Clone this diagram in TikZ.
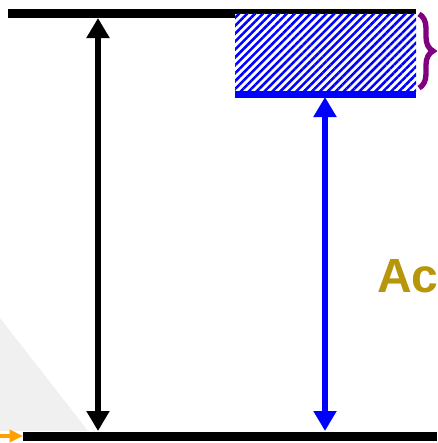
\documentclass[tikz,border=0pt]{standalone}
\usepackage{fontspec}
\setsansfont{Liberation Sans}
\usetikzlibrary{arrows.meta,patterns.meta,decorations.pathreplacing}
\definecolor{gold}{RGB}{184,150,10}
\definecolor{braceviolet}{RGB}{128,0,128}
\definecolor{orng}{RGB}{255,160,0}
\tikzset{
  levelbar/.style={line width=6.75pt},
  transarrow/.style={line width=4.5pt,{Triangle[width=16.5pt,length=15pt]}-{Triangle[width=16.5pt,length=15pt]}},
}
\begin{document}
\begin{tikzpicture}[x=0.75pt,y=-0.75pt]
\clip (0,0) rectangle (437,443);
\fill[white] (0,0) rectangle (437,443);
% faint grey shape bottom-left
\fill[gray!12] (0,318) -- (88,431) -- (0,431) -- cycle;
% levels
\coordinate (t1) at (8,13.5);
\coordinate (t2) at (416,13.5);
\coordinate (b1) at (23,436);
\coordinate (b2) at (437,436);
\draw[levelbar] (t1) -- (t2);
\draw[levelbar] (b1) -- (b2);
% hatched band
\fill[white] (235,13.5) rectangle (416,91);
\fill[pattern={Lines[angle=45,distance=4.2pt,line width=1.9pt]},pattern color=blue] (235,13.5) rectangle (416,91);
\coordinate (h1) at (235,94);
\coordinate (h2) at (416,94);
\draw[blue,line width=5.25pt] (h1) -- (h2);
% arrows
\coordinate (a1) at (98,18);
\coordinate (a2) at (98,431);
\draw[transarrow] (a1) -- (a2);
\coordinate (c1) at (325,97);
\coordinate (c2) at (325,431);
\draw[transarrow,blue] (c1) -- (c2);
% brace
\coordinate (br1) at (419,14);
\coordinate (br2) at (419,88);
\draw[braceviolet,line width=4pt,decorate,decoration={brace,amplitude=10.5pt}] (br1) -- (br2);
% orange arrow
\coordinate (o1) at (-5,436);
\coordinate (o2) at (23,436);
\draw[orng,line width=2.6pt,-{Triangle[width=9pt,length=10pt]}] (o1) -- (o2);
% text
\node[anchor=base west,inner sep=0pt,text=gold,font=\sffamily\bfseries\fontsize{36pt}{40pt}\selectfont] (ac) at (377,292) {Ac};
\end{tikzpicture}
\end{document}
